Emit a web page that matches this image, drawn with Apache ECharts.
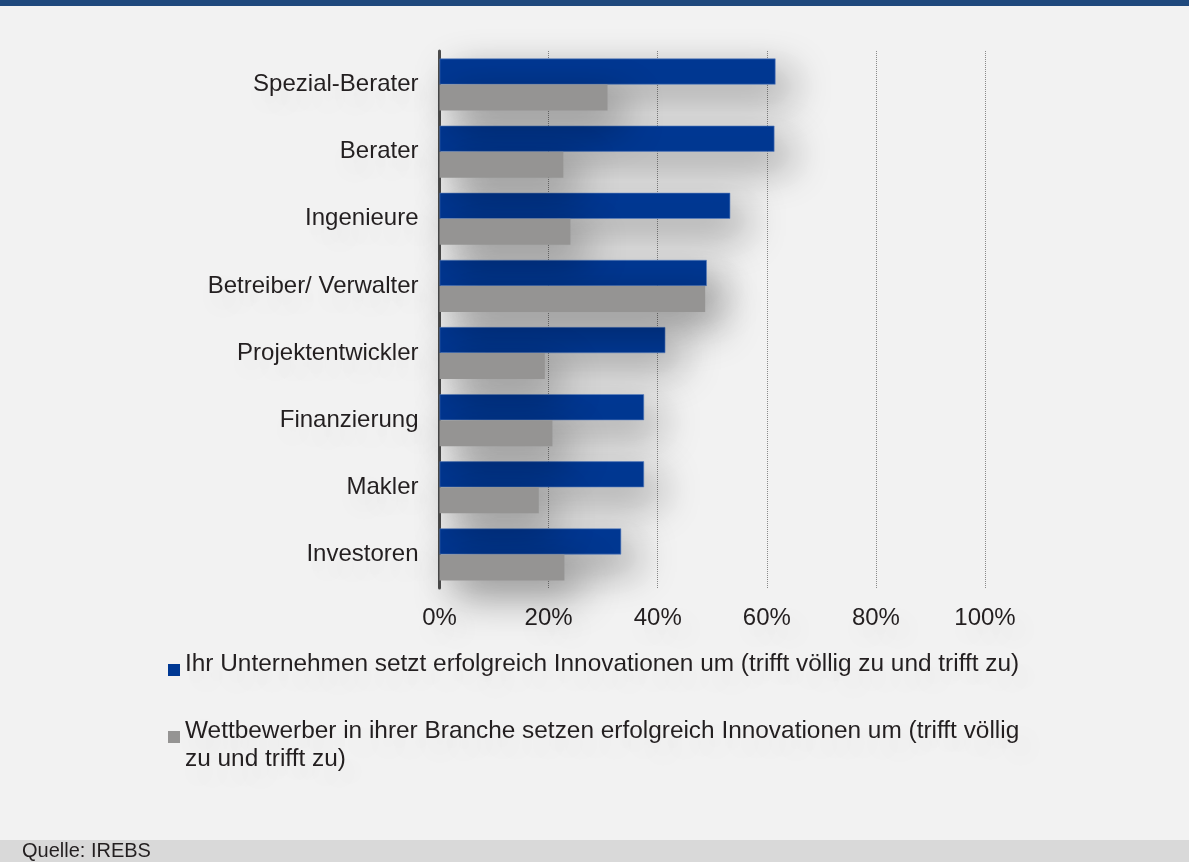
<!DOCTYPE html>
<html><head><meta charset="utf-8">
<script src="https://cdn.jsdelivr.net/npm/echarts@6/dist/echarts.min.js"></script>
<style>html,body{margin:0;padding:0;background:#f2f2f2}#c{width:1189px;height:862px}</style>
</head><body><div id="c"></div>
<script>
const categories = ['Spezial-Berater','Berater','Ingenieure','Betreiber/ Verwalter','Projektentwickler','Finanzierung','Makler','Investoren'];
const seriesNames = ['Ihr Unternehmen setzt erfolgreich Innovationen um (trifft völlig zu und trifft zu)',
  'Wettbewerber in ihrer Branche setzen erfolgreich Innovationen um (trifft völlig zu und trifft zu)'];
const legendLines2 = ['Wettbewerber in ihrer Branche setzen erfolgreich Innovationen um (trifft völlig', 'zu und trifft zu)'];
const ownCompany = [61.6, 61.4, 53.3, 49.0, 41.4, 37.5, 37.5, 33.3];
const competitors = [30.8, 22.7, 24.0, 48.7, 19.3, 20.7, 18.2, 22.9];
const xTicks = [0, 20, 40, 60, 80, 100];

const font = '"Liberation Sans", Arial, sans-serif';
const textColor = '#231f20';
const textShadow = {textShadowColor:'rgba(0,0,0,0.12)', textShadowBlur:26, textShadowOffsetX:8, textShadowOffsetY:12};
const chart = echarts.init(document.getElementById('c'));
const shadow = {shadowColor:'rgba(0,0,0,0.42)', shadowBlur:40, shadowOffsetX:15, shadowOffsetY:15};
const legendIcon = 'path://M0,0 M0,10 L10,10 L10,20 L0,20 Z';
chart.setOption({
  backgroundColor:'#f2f2f2',
  animation:false,
  grid:{left:439.5, right:204, top:51, bottom:274},
  xAxis:{type:'value', min:xTicks[0], max:xTicks[xTicks.length-1], interval:20,
    axisLine:{show:false}, axisTick:{show:false},
    axisLabel:Object.assign({formatter:'{value}%', color:textColor, fontSize:24, fontFamily:font, margin:18}, textShadow),
    splitLine:{lineStyle:{color:'#8a8a8a', type:[1,1], width:1}}},
  yAxis:{type:'category', data:categories, inverse:true,
    axisLine:{lineStyle:{color:'#4d4d4d', width:3}}, axisTick:{show:false},
    axisLabel:Object.assign({color:textColor, fontSize:24, fontFamily:font, margin:21}, textShadow)},
  legend:[
    {data:[seriesNames[0]], orient:'vertical', left:163, top:645, itemWidth:12, itemHeight:24,
     icon:legendIcon, itemStyle:{borderWidth:0, shadowBlur:0, shadowOffsetX:0, shadowOffsetY:0},
     textStyle:Object.assign({fontSize:24.4, fontFamily:font, color:textColor, lineHeight:28}, textShadow)},
    {data:[seriesNames[1]], orient:'vertical', left:163, top:684, itemWidth:12, itemHeight:24,
     icon:legendIcon, itemStyle:{borderWidth:0, shadowBlur:0, shadowOffsetX:0, shadowOffsetY:0},
     formatter:function(){return '\n' + legendLines2.join('\n');},
     textStyle:Object.assign({fontSize:24.4, fontFamily:font, color:textColor, lineHeight:28}, textShadow)}
  ],
  graphic:[
    {type:'rect', left:0, top:0, shape:{width:1189, height:6}, style:{fill:'#1f497d'}},
    {type:'rect', left:0, top:840, shape:{width:1189, height:22}, style:{fill:'#d9d9d9'}},
    {type:'text', left:22, top:841, style:{text:'Quelle: IREBS', fontSize:20, fontFamily:font, fill:textColor}}
  ],
  series:[
    {name:seriesNames[0], type:'bar', data:ownCompany, barWidth:26, barGap:'0%',
     itemStyle:Object.assign({color:'#003893', borderColor:'#5b7fc0', borderWidth:0.6}, shadow)},
    {name:seriesNames[1], type:'bar', data:competitors, barWidth:26, barGap:'0%',
     itemStyle:Object.assign({color:'#959493'}, shadow)}
  ]
});
</script></body></html>
